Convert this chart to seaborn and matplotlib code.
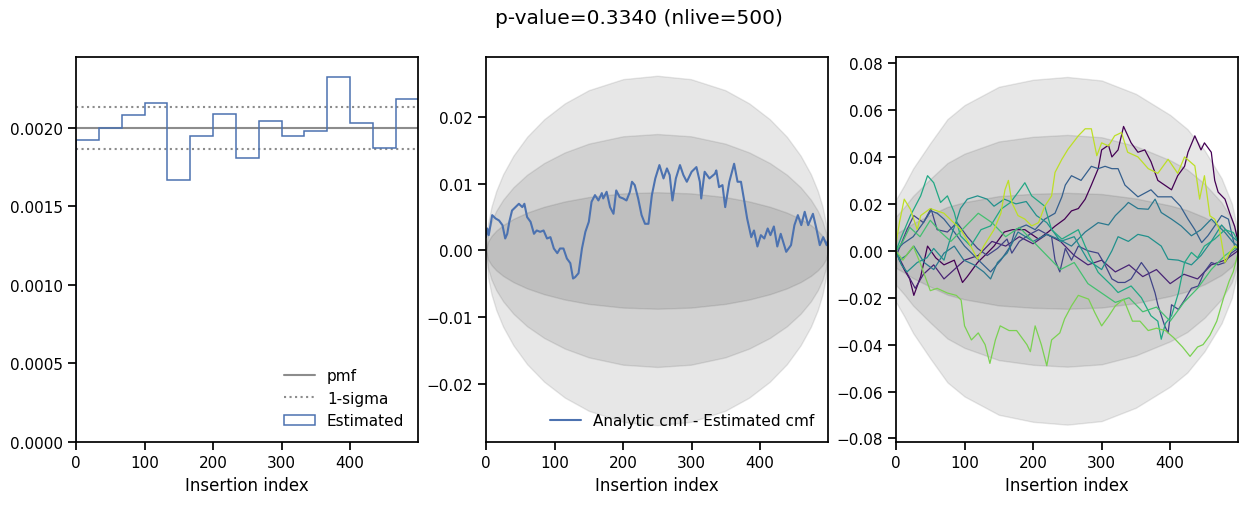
import numpy as np
import matplotlib
matplotlib.use('Agg')
import matplotlib.pyplot as plt
import seaborn as sns

# ---------------- data ----------------
nlive = 500
pvalue = 0.3340
pmf = 0.0020
one_sigma = 0.000134
hist_vals = [0.00192, 0.00200, 0.00208, 0.00216, 0.00167, 0.00195, 0.00209, 0.00181,
             0.00204, 0.00195, 0.00198, 0.00232, 0.00203, 0.00187, 0.00218]

# sigma band (middle panel) half widths at these insertion indices
band_x = [0, 3, 8, 15, 25, 40, 60, 85, 115, 150, 200, 250, 299, 349, 384, 414, 439, 459, 474, 484, 491, 496, 499]
sigma_mid = [0.0, 0.00135, 0.00219, 0.00298, 0.00381, 0.00474, 0.00568, 0.00656, 0.00735, 0.00801,
             0.00856, 0.00873, 0.00856, 0.00801, 0.00735, 0.00656, 0.00568, 0.00474, 0.00381,
             0.00298, 0.00219, 0.00135, 0.0]

# sigma band (right panel)
band_r_x = [0, 12, 25, 50, 75, 100, 150, 200, 250, 300, 350, 400, 425, 450, 475, 490, 499]
sigma_right = [0.0073, 0.0093, 0.0117, 0.0153, 0.0187, 0.0207, 0.0233, 0.0243, 0.0247, 0.0242,
               0.0223, 0.0193, 0.0173, 0.0143, 0.0103, 0.0067, 0.0027]

mid_x = [0, 2, 4, 9, 14, 19, 24, 28, 31, 34, 38, 43, 48, 53, 56, 60, 65, 70, 74, 79, 84, 89, 94, 99,
         104, 108, 113, 118, 123, 127, 130, 135, 140, 145, 150, 154, 159, 164, 169, 171, 176, 181,
         186, 190, 195, 200, 205, 210, 213, 217, 222, 227, 232, 237, 242, 247, 253, 259, 264, 268,
         272, 277, 283, 288, 293, 300, 307, 312, 314, 319, 326, 334, 336, 340, 345, 349, 355, 362,
         367, 372, 377, 381, 387, 391, 396, 401, 406, 411, 415, 420, 425, 430, 438, 445, 450, 455,
         460, 465, 470, 477, 482, 487, 492, 497, 499]
mid_y = [0.0020, 0.0033, 0.0023, 0.0053, 0.0048, 0.0045, 0.0038, 0.0018, 0.0025, 0.0043, 0.0060,
         0.0065, 0.0070, 0.0065, 0.0070, 0.0050, 0.0043, 0.0025, 0.0030, 0.0028, 0.0030, 0.0018,
         0.0020, 0.0003, -0.0004, 0.0003, 0.0003, -0.0012, -0.0019, -0.0042, -0.0040, -0.0034,
         0.0003, 0.0028, 0.0043, 0.0073, 0.0083, 0.0075, 0.0086, 0.0078, 0.0088, 0.0065, 0.0055,
         0.0090, 0.0080, 0.0078, 0.0075, 0.0088, 0.0103, 0.0098, 0.0078, 0.0053, 0.0040, 0.0040,
         0.0083, 0.0108, 0.0128, 0.0108, 0.0123, 0.0113, 0.0075, 0.0108, 0.0128, 0.0113, 0.0103,
         0.0118, 0.0125, 0.0103, 0.0078, 0.0118, 0.0108, 0.0115, 0.0120, 0.0095, 0.0098, 0.0065,
         0.0103, 0.0130, 0.0103, 0.0103, 0.0073, 0.0048, 0.0020, 0.0030, 0.0006, 0.0023, 0.0018,
         0.0033, 0.0023, 0.0036, 0.0006, 0.0025, -0.0002, 0.0008, 0.0038, 0.0053, 0.0038, 0.0058,
         0.0038, 0.0055, 0.0033, 0.0008, 0.0020, 0.0008, 0.0015]

run0_x = [0, 5, 12, 20, 26, 36, 46, 58, 70, 85, 97, 104, 119, 133, 143, 158, 170, 188, 208, 222, 232,
          246, 256, 266, 276, 285, 295, 300, 310, 315, 324, 332, 343, 353, 363, 372, 382, 392, 402,
          411, 421, 426, 436, 445, 450, 460, 465, 470, 480, 487, 494, 499]
run0_y = [0.0, -0.004, -0.008, -0.012, -0.019, -0.011, 0.002, -0.003, -0.006, -0.004, -0.0135, -0.011,
          -0.005, -0.001, 0.002, 0.008, 0.009, 0.009, 0.005, 0.008, 0.0105, 0.0135, 0.017, 0.018,
          0.022, 0.028, 0.035, 0.043, 0.045, 0.040, 0.043, 0.053, 0.046, 0.042, 0.043, 0.038, 0.030,
          0.028, 0.026, 0.032, 0.036, 0.042, 0.049, 0.043, 0.046, 0.042, 0.030, 0.025, 0.022, 0.016,
          0.0105, 0.004]
run1_x = [0, 8, 15, 28, 40, 55, 70, 85, 100, 120, 140, 160, 180, 200, 220, 240, 260, 280, 300, 320,
          340, 360, 380, 400, 420, 440, 460, 480, 499]
run1_y = [0.0, -0.005, -0.009, -0.016, -0.010, -0.006, -0.012, -0.008, -0.004, -0.002, 0.004, 0.002,
          0.006, 0.003, 0.007, 0.004, -0.002, -0.006, -0.004, -0.009, -0.006, -0.011, -0.008, -0.014,
          -0.010, -0.012, -0.006, -0.004, 0.0]
run2_x = [0, 2, 16, 26, 40, 51, 60, 75, 89, 104, 119, 133, 148, 162, 169, 180, 195, 208, 227, 232, 239,
          247, 256, 266, 280, 295, 305, 315, 324, 334, 343, 358, 368, 378, 382, 392, 397, 402, 412,
          421, 431, 441, 450, 460, 470, 480, 489, 499]
run2_y = [0.0, -0.001, 0.009, 0.015, 0.012, 0.018, 0.009, 0.008, 0.012, 0.006, 0.001, -0.002, 0.001,
          0.005, -0.001, 0.004, 0.007, 0.009, 0.006, -0.004, -0.009, 0.001, -0.004, 0.002, 0.0,
          -0.001, -0.006, -0.012, -0.0135, -0.0135, -0.012, -0.005, -0.009, -0.018, -0.023, -0.032,
          -0.035, -0.023, -0.025, -0.021, -0.016, -0.015, -0.009, -0.005, -0.006, -0.005, -0.001, 0.001]
run3_x = [0, 10, 25, 40, 51, 60, 70, 85, 100, 124, 138, 153, 167, 174, 190, 203, 217, 232, 242, 247,
          256, 270, 285, 295, 305, 315, 324, 334, 353, 372, 382, 402, 415, 426, 436, 446, 455, 465,
          475, 485, 494, 499]
run3_y = [0.0, 0.003, 0.006, 0.012, 0.017, 0.016, 0.0135, 0.008, 0.002, -0.005, -0.009, -0.004, 0.002,
          0.009, 0.011, 0.009, 0.0135, 0.016, 0.023, 0.028, 0.032, 0.030, 0.036, 0.035, 0.036, 0.035,
          0.035, 0.028, 0.023, 0.026, 0.023, 0.023, 0.019, 0.0135, 0.009, 0.0035, 0.0064, 0.0106,
          0.015, 0.0135, 0.002, 0.0]
run4_x = [0, 5, 15, 26, 41, 55, 70, 85, 99, 114, 128, 138, 148, 162, 178, 200, 220, 237, 256, 276,
          295, 310, 320, 334, 339, 353, 368, 378, 387, 402, 416, 431, 445, 460, 470, 480, 492, 499]
run4_y = [0.0, -0.004, -0.002, 0.002, -0.005, -0.008, -0.001, 0.002, -0.004, -0.006, -0.009, -0.012,
          -0.005, -0.001, 0.008, 0.004, 0.007, 0.005, 0.002, 0.008, 0.012, 0.011, 0.015, 0.019,
          0.0206, 0.018, 0.0177, 0.022, 0.0163, 0.0135, 0.0106, 0.0064, 0.009, 0.0135, 0.0106,
          0.0078, 0.0035, 0.002]
run5_x = [0, 8, 16, 31, 45, 55, 70, 80, 89, 94, 104, 119, 133, 143, 158, 175, 190, 205, 220, 240,
          260, 280, 300, 315, 324, 339, 353, 368, 387, 397, 412, 431, 445, 460, 475, 489, 499]
run5_y = [0.0, -0.006, -0.009, -0.005, -0.003, 0.001, -0.004, 0.006, 0.0135, 0.018, 0.022, 0.0234,
          0.022, 0.019, 0.022, 0.020, 0.021, 0.015, 0.012, 0.004, 0.006, -0.004, -0.008, 0.0, 0.006,
          0.004, 0.007, 0.006, 0.002, -0.0036, -0.004, -0.006, -0.002, 0.004, 0.011, 0.0064, 0.004]
run6_x = [0, 8, 21, 36, 46, 55, 65, 75, 85, 94, 109, 124, 138, 153, 167, 178, 188, 198, 217, 227,
          242, 266, 276, 285, 295, 315, 324, 343, 358, 372, 382, 387, 393, 402, 412, 421, 431, 440,
          450, 465, 480, 492, 499]
run6_y = [0.0, 0.006, 0.015, 0.0234, 0.032, 0.029, 0.0206, 0.0234, 0.0163, 0.0064, 0.002, 0.009,
          0.0106, 0.0177, 0.0206, 0.0249, 0.029, 0.0234, 0.019, 0.009, 0.005, 0.009, 0.002, -0.0036,
          -0.0092, -0.0149, -0.0178, -0.015, -0.020, -0.0277, -0.030, -0.0377, -0.031, -0.0277,
          -0.018, -0.005, -0.0007, -0.003, 0.002, 0.005, 0.009, 0.0078, 0.004]
run7_x = [0, 10, 20, 35, 50, 65, 80, 100, 120, 140, 160, 180, 200, 220, 240, 260, 280, 300, 320, 340,
          360, 380, 400, 420, 440, 460, 480, 499]
run7_y = [0.0, 0.004, 0.010, 0.006, 0.013, 0.008, 0.004, 0.010, 0.016, 0.012, 0.006, 0.010, 0.004,
          -0.002, -0.008, -0.005, -0.014, -0.018, -0.022, -0.020, -0.026, -0.024, -0.030, -0.022,
          -0.016, -0.008, -0.002, 0.002]
run8_x = [0, 10, 25, 35, 50, 60, 75, 88, 95, 100, 110, 120, 130, 137, 145, 152, 165, 176, 191, 196,
          203, 212, 220, 227, 239, 246, 256, 266, 281, 290, 300, 310, 320, 332, 345, 356, 368, 380,
          393, 405, 418, 429, 440, 448, 458, 468, 478, 486, 492, 499]
run8_y = [0.0, -0.004, 0.002, -0.005, -0.017, -0.016, -0.018, -0.019, -0.021, -0.032, -0.038, -0.035,
          -0.040, -0.048, -0.038, -0.032, -0.034, -0.034, -0.040, -0.043, -0.032, -0.040, -0.049,
          -0.038, -0.035, -0.029, -0.0235, -0.019, -0.0206, -0.0263, -0.032, -0.028, -0.0235,
          -0.0206, -0.030, -0.030, -0.034, -0.033, -0.034, -0.037, -0.041, -0.045, -0.041, -0.040,
          -0.036, -0.030, -0.020, -0.013, -0.009, -0.001]
run9_x = [0, 5, 12, 21, 31, 36, 50, 70, 94, 109, 119, 128, 143, 153, 159, 164, 169, 178, 188, 198,
          208, 217, 227, 232, 242, 251, 266, 276, 285, 293, 300, 310, 319, 329, 338, 353, 368, 382,
          397, 411, 421, 436, 443, 450, 458, 465, 472, 480, 487, 494, 499]
run9_y = [0.003, 0.012, 0.022, 0.0177, 0.009, 0.015, 0.018, 0.016, 0.0092, 0.002, -0.0036, 0.002,
          0.009, 0.016, 0.026, 0.030, 0.0206, 0.015, 0.0135, 0.0106, 0.012, 0.019, 0.0234, 0.0334,
          0.039, 0.0433, 0.049, 0.052, 0.052, 0.0405, 0.046, 0.0447, 0.049, 0.0504, 0.042, 0.040,
          0.035, 0.033, 0.039, 0.033, 0.040, 0.0362, 0.022, 0.032, 0.0149, 0.0135, 0.009, -0.005,
          -0.0007, 0.002, 0.001]

runs = [(run0_x, run0_y), (run1_x, run1_y), (run2_x, run2_y), (run3_x, run3_y), (run4_x, run4_y),
        (run5_x, run5_y), (run6_x, run6_y), (run7_x, run7_y), (run8_x, run8_y), (run9_x, run9_y)]

# ---------------- style ----------------
sns.set_theme(style='ticks', context='notebook',
              rc={'axes.edgecolor': 'black', 'xtick.color': 'black', 'ytick.color': 'black',
                  'text.color': 'black', 'axes.labelcolor': 'black'})
plt.rcParams['font.family'] = ['DejaVu Sans']
blue = '#4c72b0'

fig, axes = plt.subplots(1, 3, figsize=(12.48, 5.06), dpi=100)
fig.subplots_adjust(left=0.0609, right=0.992, bottom=0.1245, top=0.8854, wspace=0.1988)

# ---- left: pmf histogram ----
ax = axes[0]
edges = np.linspace(0, nlive, len(hist_vals) + 1)
centers = 0.5 * (edges[:-1] + edges[1:])
ax.axhline(pmf, color='k', alpha=0.5, lw=1.5, label='pmf')
ax.axhline(pmf + one_sigma, color='k', alpha=0.5, lw=1.5, ls=':', label='1-sigma')
ax.axhline(pmf - one_sigma, color='k', alpha=0.5, lw=1.5, ls=':')
ax.hist(centers, bins=edges, weights=hist_vals, histtype='step', color=blue, lw=1.1,
        label='Estimated')
ax.set_xlim(0, nlive - 1)
ax.set_ylim(0, 0.00245)
ax.set_yticks([0, 0.0005, 0.0010, 0.0015, 0.0020])
ax.set_yticklabels(['0.0000', '0.0005', '0.0010', '0.0015', '0.0020'])
ax.legend(loc='lower right', frameon=False)

# ---- middle: cmf difference ----
ax = axes[1]
s = np.array(sigma_mid)
for k in (1, 2, 3):
    ax.fill_between(band_x, -k * s, k * s, color='k', alpha=0.1)
sns.lineplot(x=mid_x, y=mid_y, ax=ax, color=blue, lw=1.5, estimator=None, sort=False,
             label='Analytic cmf - Estimated cmf')
ax.set_xlim(0, nlive - 1)
ax.set_ylim(-0.0287, 0.0290)
ax.set_yticks([-0.02, -0.01, 0.0, 0.01, 0.02])
ax.legend(loc='lower right', frameon=False)

# ---- right: many runs ----
ax = axes[2]
sr = np.array(sigma_right)
for k in (1, 2, 3):
    ax.fill_between(band_r_x, -k * sr, k * sr, color='k', alpha=0.1)
cmap = plt.get_cmap('viridis')
for i, (xx, yy) in enumerate(runs):
    sns.lineplot(x=xx, y=yy, ax=ax, color=cmap(i / len(runs)), lw=0.9, estimator=None,
                 sort=False, legend=False)
ax.set_xlim(0, nlive - 1)
ax.set_ylim(-0.0815, 0.0826)
ax.set_yticks([-0.08, -0.06, -0.04, -0.02, 0.0, 0.02, 0.04, 0.06, 0.08])

for ax in axes:
    ax.set_xticks([0, 100, 200, 300, 400])
    ax.set_xlabel('Insertion index')
    ax.set_ylabel('')

fig.suptitle(f'p-value={pvalue:.4f} (nlive={nlive})', x=0.5116, y=0.964, va='center',
             fontsize=14.5)
fig.savefig('out.png', dpi=100)
